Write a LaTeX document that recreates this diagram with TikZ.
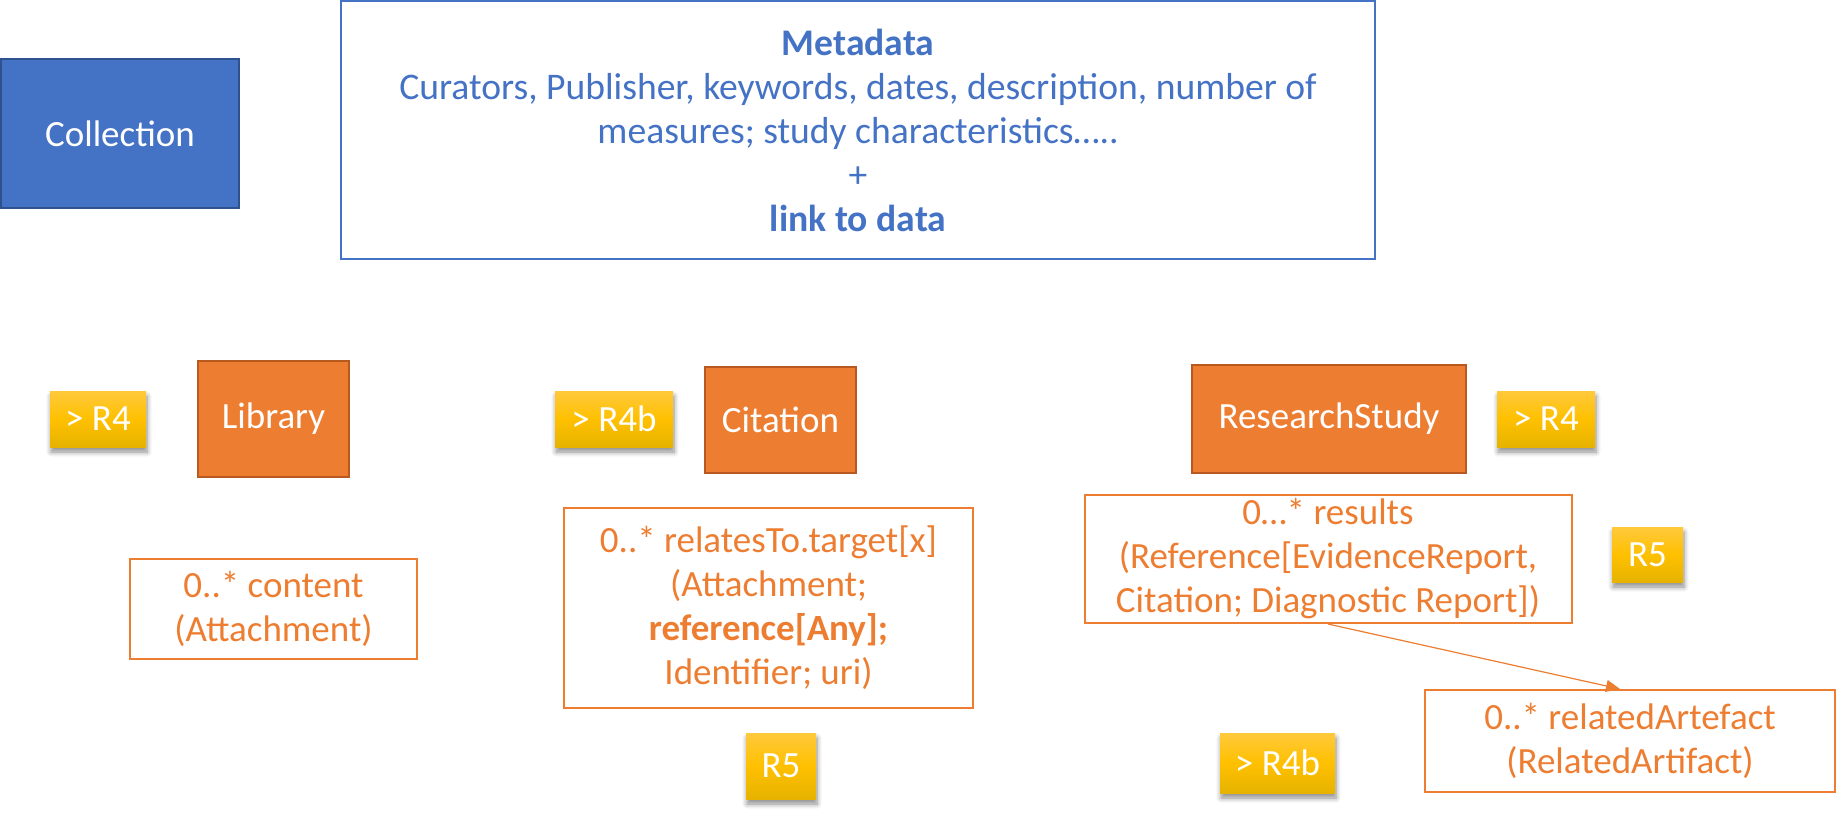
\documentclass[tikz,border=0pt]{standalone}
\usepackage{fontspec}
\setmainfont{Carlito}
\usetikzlibrary{shadows,shadows.blur,arrows.meta}
\definecolor{cblue}{HTML}{4472C4}
\definecolor{cdblue}{HTML}{2F528F}
\definecolor{corange}{HTML}{ED7D31}
\definecolor{cdorange}{HTML}{B85A1F}
\definecolor{gtop}{HTML}{FFC93C}
\definecolor{gmid}{HTML}{FFC000}
\definecolor{gbot}{HTML}{E6B300}
\begin{document}
\begin{tikzpicture}[x=0.5pt,y=-0.5pt,
  txt/.style={font=\fontsize{18.5}{22}\selectfont, align=center, inner sep=0},
  bluebox/.style={txt, draw=cdblue, line width=1pt, fill=cblue, text=white},
  metabox/.style={txt, font=\fontsize{18.8}{22}\selectfont, draw=cblue, line width=1pt, text=cblue},
  orbox/.style={txt, draw=cdorange, line width=1pt, fill=corange, text=white},
  oline/.style={txt, draw=corange, line width=1pt, text=corange},
  tag/.style={txt, text=white, top color=gtop, bottom color=gbot, middle color=gmid,
    blur shadow={shadow blur steps=6, shadow xshift=0.5pt, shadow yshift=-2.5pt, shadow opacity=45, shadow blur radius=2.5pt}},
  conn/.style={draw=corange, line width=0.6pt, -{Triangle[length=7pt,width=6pt]}}
]
\useasboundingbox (0,0) rectangle (1836,821);

\node[bluebox, minimum width=119pt, minimum height=74.5pt] (coll) at (120,133.5) {Collection};
\node[metabox, minimum width=517pt, minimum height=129pt] (meta) at (858,130)
  {\textbf{Metadata}\\Curators, Publisher, keywords, dates, description, number of\\measures; study characteristics\ldots..\\+\\\textbf{link to data}};

\node[tag, minimum width=48pt, minimum height=28pt] (t1) at (98,419) {> R4};
\node[orbox, minimum width=75.5pt, minimum height=58pt] (lib) at (273.5,419) {Library};
\node[tag, minimum width=59pt, minimum height=28pt] (t2) at (614,419) {> R4b};
\node[orbox, minimum width=75.5pt, minimum height=53pt] (cit) at (780.5,420) {Citation};
\node[orbox, minimum width=137pt, minimum height=54pt] (rs) at (1329,419) {ResearchStudy};
\node[tag, minimum width=49pt, minimum height=28pt] (t3) at (1546,419) {> R4};

\node[oline, minimum width=143.5pt, minimum height=50pt] (content) at (273.5,609) {0..* content\\(Attachment)};
\node[oline, minimum width=204.5pt, minimum height=100pt] (rel) at (768.5,608)
  {0..* relatesTo.target[x]\\(Attachment;\\\textbf{reference[Any];}\\Identifier; uri)};
\node[tag, minimum width=35pt, minimum height=33pt] (r5a) at (781,766) {R5};

\node[oline, minimum width=243.5pt, minimum height=64pt] (res) at (1328,559)
  {0\ldots* results\\(Reference[EvidenceReport,\\Citation; Diagnostic Report])};
\node[tag, minimum width=35.5pt, minimum height=27.5pt] (r5b) at (1647.5,554.5) {R5};
\node[tag, minimum width=57.5pt, minimum height=30pt] (t4) at (1277.5,763) {> R4b};
\node[oline, minimum width=205pt, minimum height=51pt] (ra) at (1630,741)
  {0..* relatedArtefact\\(RelatedArtifact)};

\draw[conn] (res.south) -- ([xshift=-5pt]ra.north);
\end{tikzpicture}
\end{document}
